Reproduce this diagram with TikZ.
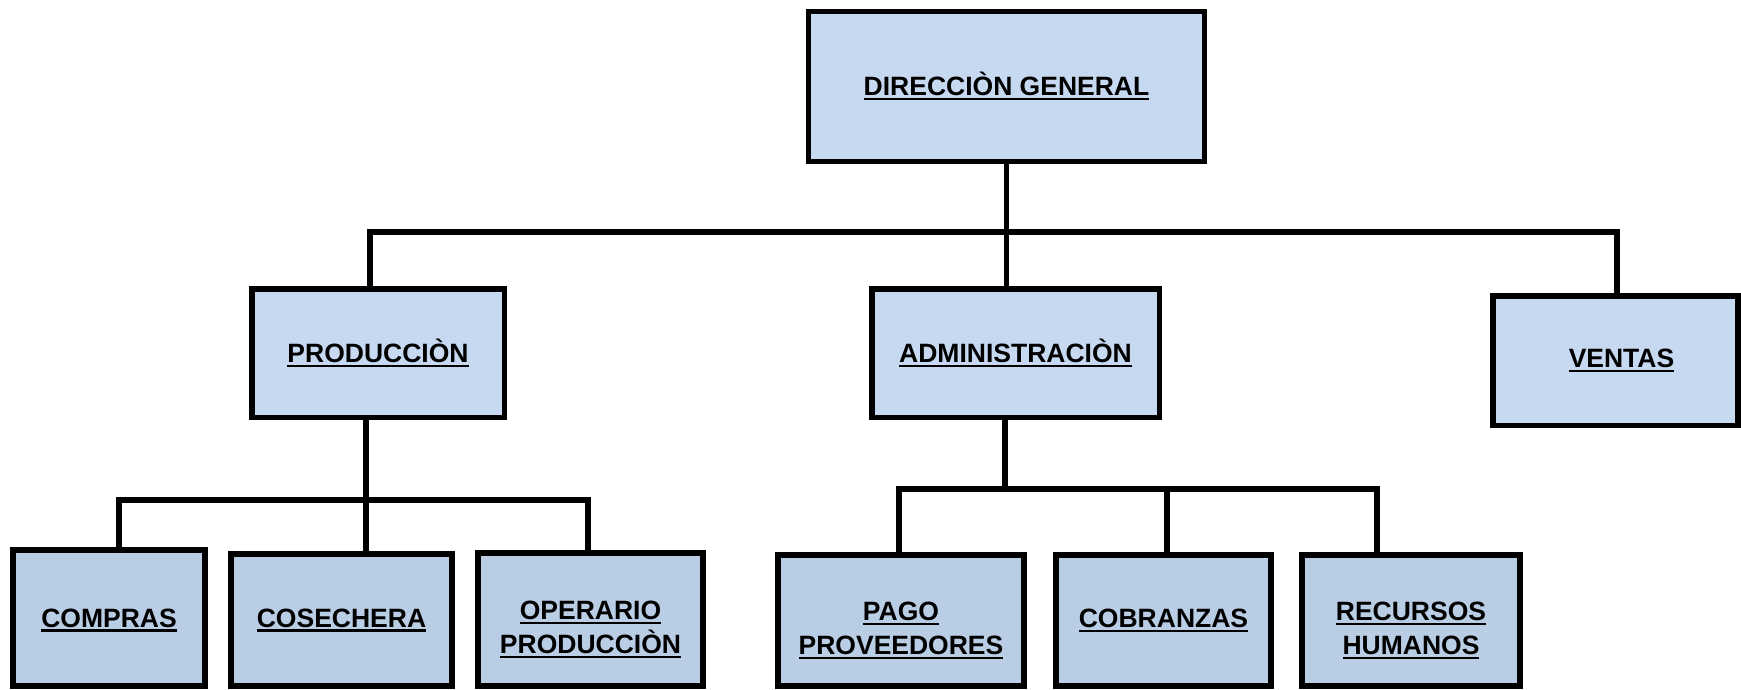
\documentclass[tikz,border=0pt]{standalone}
\usepackage{fontspec}
\setmainfont{Liberation Sans}
\definecolor{topfill}{RGB}{198,217,240}
\definecolor{lowfill}{RGB}{185,205,228}
\newcommand\myul[1]{\setbox0=\hbox{#1}\rlap{\rule[-4.5pt]{\wd0}{2.2pt}}\box0}
\begin{document}
\begin{tikzpicture}[x=1pt,y=-1pt,
  orgbox/.style={draw=black, line width=5.5pt, fill=topfill, inner sep=0pt, rectangle},
  lowbox/.style={orgbox, fill=lowfill},
  lbl/.style={font=\fontsize{26.5}{34.5}\selectfont\bfseries, align=center, inner sep=0pt},
  conn/.style={draw=black, line width=5.5pt, line join=miter}]
\useasboundingbox (0,0) rectangle (1741,690);
\clip (0,0) rectangle (1741,690);
% boxes
\node[orgbox, minimum width=396pt, minimum height=150pt, label={[lbl]center:\myul{DIRECCIÒN GENERAL}}] (dg) at (1006.5,86.5) {};
\node[orgbox, minimum width=252.5pt, minimum height=128.5pt, label={[lbl]center:\myul{PRODUCCIÒN}}] (prod) at (378,353) {};
\node[orgbox, minimum width=287.5pt, minimum height=128.5pt, label={[lbl]center:\myul{ADMINISTRACIÒN}}] (admin) at (1015.5,353) {};
\node[orgbox, minimum width=245pt, minimum height=129.5pt, label={[lbl,xshift=6pt]center:\myul{VENTAS}}] (ventas) at (1615.5,360.75) {};
\node[lowbox, minimum width=192pt, minimum height=136pt, label={[lbl,yshift=-2pt]center:\myul{COMPRAS}}] (compras) at (109,618) {};
\node[lowbox, minimum width=221pt, minimum height=132pt, label={[lbl]center:\myul{COSECHERA}}] (cos) at (341.5,620) {};
\node[lowbox, minimum width=225pt, minimum height=133pt, label={[lbl,yshift=-10pt]center:\myul{OPERARIO}\\\myul{PRODUCCIÒN}}] (oper) at (590.5,619.5) {};
\node[lowbox, minimum width=246pt, minimum height=131pt, label={[lbl,yshift=-10pt]center:\myul{PAGO}\\\myul{PROVEEDORES}}] (pago) at (901,620.5) {};
\node[lowbox, minimum width=215pt, minimum height=131pt, label={[lbl]center:\myul{COBRANZAS}}] (cobr) at (1163.5,620.5) {};
\node[lowbox, minimum width=218pt, minimum height=131pt, label={[lbl,yshift=-10pt]center:\myul{RECURSOS}\\\myul{HUMANOS}}] (rrhh) at (1411,620.5) {};
% connector points
\coordinate (busL) at (370,232);
\coordinate (busR) at (1617,232);
\coordinate (pstem) at (366,500);
\coordinate (psL) at (119,500);
\coordinate (psR) at (588,500);
\coordinate (astem) at (1005,489);
\coordinate (asL) at (899,489);
\coordinate (asM) at (1167,489);
\coordinate (asR) at (1377,489);
% connectors
\path[conn] (dg.south) -- (dg.south |- admin.north);
\path[conn] (busL |- prod.north) -- (busL) -- (busR) -- (busR |- ventas.north);
\path[conn] (pstem |- prod.south) -- (pstem |- cos.north);
\path[conn] (psL |- compras.north) -- (psL) -- (psR) -- (psR |- oper.north);
\path[conn] (astem |- admin.south) -- (astem);
\path[conn] (asL |- pago.north) -- (asL) -- (asR) -- (asR |- rrhh.north);
\path[conn] (asM) -- (asM |- cobr.north);
\end{tikzpicture}
\end{document}
